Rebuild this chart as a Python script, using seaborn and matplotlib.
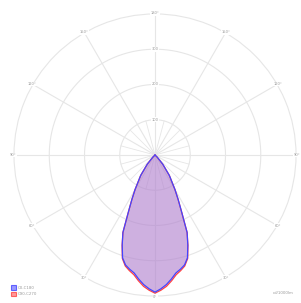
import numpy as np
import matplotlib
matplotlib.use("Agg")
import matplotlib.pyplot as plt
import seaborn as sns
import pandas as pd
from matplotlib.patches import Patch

# --- data (cd/1000lm) ---
gamma_deg = [0, 2.5, 5, 7.5, 10, 12.5, 15, 17.5, 20, 22.5, 25, 27.5, 30, 35, 40, 45, 50, 60, 70, 80, 90]
c0_c180 = [389, 380, 369, 355, 340, 332, 323, 306, 272, 238, 179, 142, 113, 71, 34, 9, 0, 0, 0, 0, 0]
c90_c270 = [392, 384, 374, 360, 345, 336, 326, 308, 273, 238, 179, 142, 113, 71, 34, 9, 0, 0, 0, 0, 0]
series_names = ["C0-C180", "C90-C270"]
ring_values = [100, 200, 300, 400]
angle_labels = ["0°", "30°", "60°", "90°", "120°", "150°", "180°"]
unit_label = "cd/1000lm"

sns.set_style("white")

fig = plt.figure(figsize=(3.01, 3.03), dpi=100)
ax = fig.add_axes([0.0465, 0.023, 0.937, 0.931], projection="polar")
ax.set_theta_zero_location("S")

def full_curve(vals):
    g = np.array(gamma_deg, dtype=float)
    v = np.array(vals, dtype=float)
    th = np.concatenate([-g[::-1], g[1:]])
    rr = np.concatenate([v[::-1], v[1:]])
    return np.deg2rad(th), rr

grid_c = "#e6e6e6"
ax.grid(False)
ax.spines["polar"].set_color(grid_c)
ax.spines["polar"].set_linewidth(0.8)

tt = np.linspace(0, 2 * np.pi, 400)
for rv in ring_values[:-1]:
    ax.plot(tt, np.full_like(tt, rv), color=grid_c, lw=0.8, zorder=0)
for a in range(0, 360, 30):
    ax.plot([np.deg2rad(a)] * 2, [0, ring_values[-1]], color=grid_c, lw=0.8, zorder=0)
for a in range(15, 360, 30):
    ax.plot([np.deg2rad(a)] * 2, [0, ring_values[0]], color=grid_c, lw=0.6, zorder=0)

colors_line = ["#4444ff", "#ff4444"]
colors_fill = ["#8080ff", "#ff8080"]

for idx in [1, 0]:
    vals = [c0_c180, c90_c270][idx]
    th, rr = full_curve(vals)
    ax.fill(th, rr, color=colors_fill[idx], alpha=0.38, lw=0, zorder=2)
    df = pd.DataFrame({"theta": th, "r": rr})
    sns.lineplot(data=df, x="theta", y="r", ax=ax, color=colors_line[idx], lw=0.9,
                 sort=False, zorder=3, legend=False)
ax.set_xlabel("")
ax.set_ylabel("")
ax.set_ylim(0, ring_values[-1])
ax.set_xticks([])
ax.set_yticks([])

txt_c = "#9a9a9a"
fs = 2.6
rmax = ring_values[-1]
for i, lab in enumerate(angle_labels):
    a = i * 30
    for sgn in ([1, -1] if a not in (0, 180) else [1]):
        ax.text(np.deg2rad(sgn * a), rmax * 1.005, lab, ha="center", va="center",
                fontsize=fs, color=txt_c, zorder=4,
                bbox=dict(boxstyle="square,pad=0.1", fc="white", ec="none"))
for rv in ring_values[:-1]:
    ax.text(np.pi, rv, str(rv), ha="center", va="center", fontsize=fs, color=txt_c,
            zorder=4, bbox=dict(boxstyle="square,pad=0.1", fc="white", ec="none"))

handles = [Patch(facecolor=colors_fill[i], edgecolor=colors_line[i], alpha=0.8, lw=0.8,
                 label=series_names[i]) for i in range(2)]
fig.legend(handles=handles, loc="lower left", bbox_to_anchor=(0.025, 0.01), frameon=False,
           fontsize=2.8, handlelength=1.4, handleheight=1.4, handletextpad=0.4,
           labelspacing=0.5, labelcolor=txt_c)
fig.text(0.975, 0.025, unit_label, ha="right", va="bottom", fontsize=2.8, color=txt_c)

fig.savefig("out.png", dpi=100)
